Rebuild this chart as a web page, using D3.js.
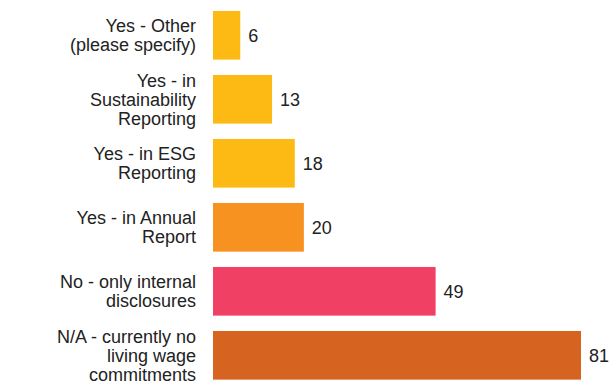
<!DOCTYPE html>
<html>
<head>
<meta charset="utf-8">
<script src="https://cdn.jsdelivr.net/npm/d3@7/dist/d3.min.js"></script>
<style>
  html, body { margin: 0; padding: 0; background: #ffffff; }
  svg { display: block; }
</style>
</head>
<body>
<div id="chart"></div>
<script>
// Disclosure of living wage commitments: responses per category
const categories = [
  ["Yes - Other", "(please specify)"],
  ["Yes - in", "Sustainability", "Reporting"],
  ["Yes - in ESG", "Reporting"],
  ["Yes - in Annual", "Report"],
  ["No - only internal", "disclosures"],
  ["N/A - currently no", "living wage", "commitments"]
];
const values = [6, 13, 18, 20, 49, 81];
const colors = ["#FDBA14", "#FDBA14", "#FDBA14", "#F7911F", "#F04064", "#D6631F"];

const width = 609, height = 390;
const margin = { left: 213 };

const svg = d3.select("#chart").append("svg")
  .attr("width", width)
  .attr("height", height);

const ids = categories.map((d, i) => i);

const x = d3.scaleLinear()
  .domain([0, 81])
  .range([margin.left, margin.left + 368]);

const y = d3.scaleBand()
  .domain(ids)
  .range([3.3, 387.3])
  .paddingInner(0.24)
  .paddingOuter(0.12);

const font = "'Liberation Sans', Arial, Helvetica, sans-serif";

// Bars
svg.append("g").selectAll("rect")
  .data(ids)
  .join("rect")
  .attr("x", x(0))
  .attr("y", i => y(i))
  .attr("width", i => x(values[i]) - x(0))
  .attr("height", y.bandwidth())
  .attr("fill", i => colors[i]);

// Value labels
svg.append("g").selectAll("text")
  .data(ids)
  .join("text")
  .attr("x", i => x(values[i]) + 8)
  .attr("y", i => y(i) + y.bandwidth() / 2)
  .attr("dy", "0.35em")
  .attr("font-family", font)
  .attr("font-size", 18)
  .attr("fill", "#222")
  .text(i => values[i]);

// Category labels (multi-line, right aligned, centred on each bar)
const lineH = 19;
const labels = svg.append("g").selectAll("text")
  .data(ids)
  .join("text")
  .attr("text-anchor", "end")
  .attr("font-family", font)
  .attr("font-size", 18)
  .attr("fill", "#222");

labels.each(function (i) {
  const lines = categories[i];
  const cy = y(i) + y.bandwidth() / 2;
  const first = cy - (lines.length - 1) * lineH / 2;
  d3.select(this).selectAll("tspan")
    .data(lines)
    .join("tspan")
    .attr("x", 196)
    .attr("y", (d, k) => first + k * lineH)
    .attr("dy", "0.35em")
    .text(d => d);
});
</script>
</body>
</html>
